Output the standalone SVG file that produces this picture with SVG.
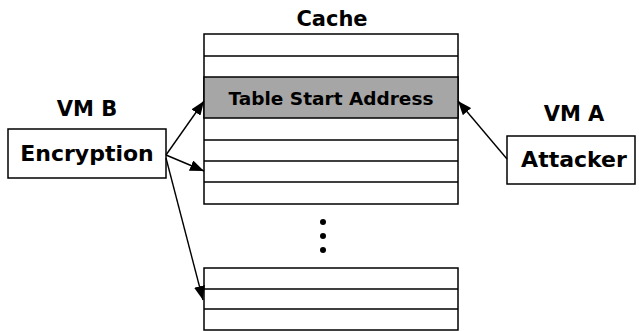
<svg xmlns="http://www.w3.org/2000/svg" width="639" height="331" viewBox="0 0 639 331">
  <defs>
    <style>
      .lbl { font-family: "DejaVu Sans", Verdana, sans-serif; font-weight: bold; fill: #000; text-anchor: middle; }
      .box { fill: #fff; stroke: #000; stroke-width: 1.5; }
      .row { stroke: #000; stroke-width: 1.5; fill: none; }
      .conn { stroke: #000; stroke-width: 1.4; fill: none; marker-end: url(#head); }
    </style>
    <marker id="head" markerUnits="userSpaceOnUse" markerWidth="15" markerHeight="11" refX="14" refY="5.5" orient="auto">
      <path d="M0,0 L14,5.5 L0,11 z" fill="#000"/>
    </marker>
  </defs>
  <rect width="639" height="331" fill="#fff"/>

  <!-- upper cache block -->
  <g id="cache">
    <text class="lbl" x="332" y="26" font-size="21">Cache</text>
    <rect class="box" x="204" y="34" width="254" height="170"/>
    <rect x="204" y="77" width="254" height="41" fill="#a6a6a6" stroke="#000" stroke-width="1.5"/>
    <path class="row" d="M204,56 H458 M204,140 H458 M204,161 H458 M204,182 H458"/>
    <text class="lbl" x="331" y="105" font-size="18.5">Table Start Address</text>
  </g>

  <!-- continuation dots -->
  <g id="ellipsis" fill="#000">
    <circle cx="323" cy="222" r="3"/>
    <circle cx="323" cy="236" r="3"/>
    <circle cx="323" cy="250" r="3"/>
  </g>

  <!-- lower cache block -->
  <g id="cache-lower">
    <rect class="box" x="204" y="268" width="254" height="62"/>
    <path class="row" d="M204,289 H458 M204,309 H458"/>
  </g>

  <!-- victim VM -->
  <g id="vm-b">
    <text class="lbl" x="87" y="116" font-size="21">VM B</text>
    <rect class="box" x="8" y="129" width="158" height="49"/>
    <text class="lbl" x="87" y="161" font-size="22">Encryption</text>
  </g>

  <!-- attacker VM -->
  <g id="vm-a">
    <text class="lbl" x="574" y="121" font-size="21">VM A</text>
    <rect class="box" x="507" y="136" width="128" height="48"/>
    <text class="lbl" x="574" y="167" font-size="22">Attacker</text>
  </g>

  <!-- accesses -->
  <g id="connectors">
    <line class="conn" x1="166" y1="155" x2="204" y2="101"/>
    <line class="conn" x1="166" y1="155" x2="204" y2="171"/>
    <line class="conn" x1="166" y1="158" x2="203" y2="300"/>
    <line class="conn" x1="507" y1="159" x2="458" y2="101"/>
  </g>
</svg>
